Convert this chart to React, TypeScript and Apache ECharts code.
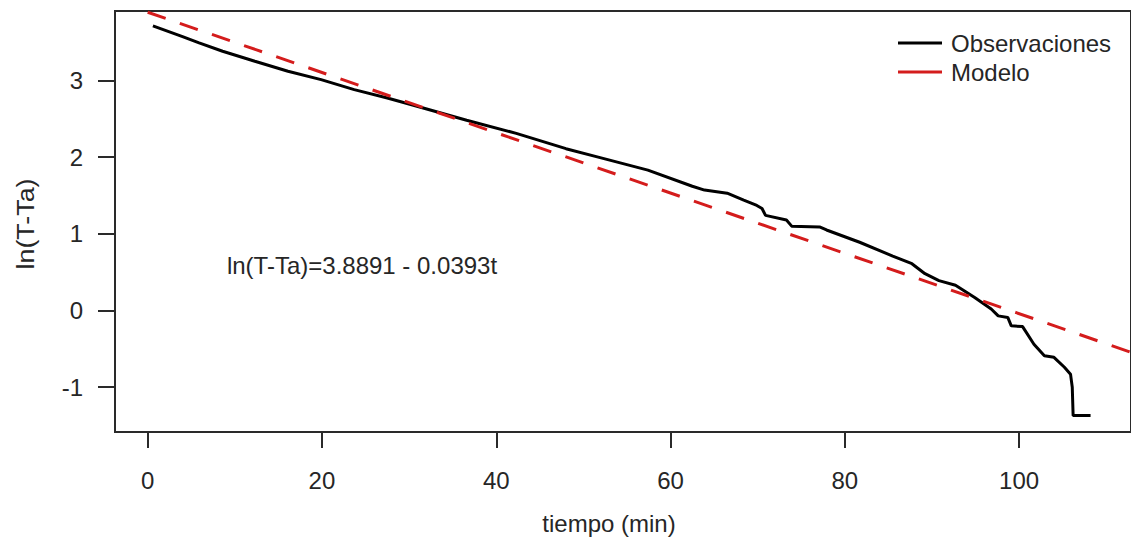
import React, { useEffect, useRef } from "react";
import * as echarts from "echarts";

const obsT = [
  0.6, 4.0, 5.9, 8.6, 12.3, 16.1, 19.9, 23.7, 27.5, 30.7, 36.6, 42.3, 48.0,
  51.7, 57.4, 62.5, 63.9, 66.5, 68.4, 69.9, 70.5, 70.9, 73.3, 73.9, 77.1, 77.9,
  81.7, 85.5, 87.7, 89.2, 90.8, 92.7, 94.9, 96.8, 97.6, 98.7, 99.1, 100.4,
  101.7, 102.9, 104.0, 105.2, 105.9, 106.1, 106.2, 108.2,
];
const obsY = [
  3.71, 3.57, 3.49, 3.38, 3.25, 3.12, 3.01, 2.88, 2.77, 2.67, 2.48, 2.31, 2.11,
  2.0, 1.83, 1.62, 1.57, 1.53, 1.44, 1.37, 1.33, 1.24, 1.18, 1.1, 1.09, 1.05,
  0.89, 0.71, 0.61, 0.48, 0.39, 0.33, 0.17, 0.02, -0.07, -0.09, -0.2, -0.21,
  -0.44, -0.59, -0.61, -0.74, -0.83, -1.0, -1.37, -1.37,
];

// Fitted model line endpoints
const modelT = [0, 115];
const modelY = [3.8891, -0.63];

const xTicks = [0, 20, 40, 60, 80, 100];
const yTicks = [-1, 0, 1, 2, 3];
const seriesNames = ["Observaciones", "Modelo"];
const equationLabel = "ln(T-Ta)=3.8891 - 0.0393t";
const xTitle = "tiempo (min)";
const yTitle = "ln(T-Ta)";

export default function App() {
  const ref = useRef<HTMLDivElement>(null);

  useEffect(() => {
    const chart = echarts.init(ref.current!, null, { renderer: "svg" });
    const font = "'Liberation Sans', Arial, sans-serif";
    const ink = "#262626";
    const axisCol = "#2a2a2a";

    chart.setOption({
      animation: false,
      backgroundColor: "#ffffff",
      textStyle: { fontFamily: font },
      grid: {
        left: 115,
        top: 11,
        width: 1026,
        height: 421,
        show: true,
        borderColor: axisCol,
        borderWidth: 2,
        backgroundColor: "transparent",
      },
      xAxis: {
        type: "value",
        min: -3.75,
        max: 112.84,
        axisLine: { show: true, onZero: false, lineStyle: { color: axisCol, width: 2 } },
        axisTick: {
          show: true,
          length: 16,
          customValues: xTicks,
          lineStyle: { color: axisCol, width: 2 },
        },
        axisLabel: {
          customValues: xTicks,
          margin: 36,
          fontSize: 24,
          color: ink,
          fontFamily: font,
        },
        splitLine: { show: false },
      },
      yAxis: {
        type: "value",
        min: -1.584,
        max: 3.905,
        axisLine: { show: true, onZero: false, lineStyle: { color: axisCol, width: 2 } },
        axisTick: {
          show: true,
          length: 17,
          customValues: yTicks,
          lineStyle: { color: axisCol, width: 2 },
        },
        axisLabel: {
          customValues: yTicks,
          margin: 32,
          fontSize: 24,
          color: ink,
          fontFamily: font,
        },
        splitLine: { show: false },
      },
      legend: {
        orient: "vertical",
        left: 893,
        top: 25,
        icon: "rect",
        itemWidth: 44,
        itemHeight: 3,
        itemGap: 3,
        data: seriesNames,
        textStyle: {
          fontSize: 24,
          lineHeight: 26,
          color: ink,
          fontFamily: font,
          padding: [0, 0, 0, 4],
        },
      },
      graphic: [
        {
          type: "text",
          x: 362,
          y: 265,
          style: {
            text: equationLabel,
            fontSize: 24,
            fontFamily: font,
            fill: ink,
            textAlign: "center",
            textVerticalAlign: "middle",
          },
        },
        {
          type: "text",
          x: 609,
          y: 523,
          style: {
            text: xTitle,
            fontSize: 24,
            fontFamily: font,
            fill: ink,
            textAlign: "center",
            textVerticalAlign: "middle",
          },
        },
        {
          type: "text",
          x: 26,
          y: 224,
          rotation: Math.PI / 2,
          scaleX: 1.12,
          style: {
            text: yTitle,
            fontSize: 24,
            fontFamily: font,
            fill: ink,
            textAlign: "center",
            textVerticalAlign: "middle",
          },
        },
      ],
      series: [
        {
          name: seriesNames[0],
          type: "line",
          data: obsT.map((t, i) => [t, obsY[i]]),
          showSymbol: false,
          itemStyle: { color: "#000000" },
          lineStyle: { color: "#000000", width: 3 },
          clip: true,
          z: 2,
        },
        {
          name: seriesNames[1],
          type: "line",
          data: modelT.map((t, i) => [t, modelY[i]]),
          showSymbol: false,
          itemStyle: { color: "#d41c1c" },
          lineStyle: { color: "#d41c1c", width: 3, type: [19, 15] },
          clip: true,
          z: 3,
        },
      ],
    });

    return () => chart.dispose();
  }, []);

  return (
    <div
      ref={ref}
      style={{ position: "fixed", left: 0, top: 0, width: 1131, height: 537 }}
    />
  );
}
